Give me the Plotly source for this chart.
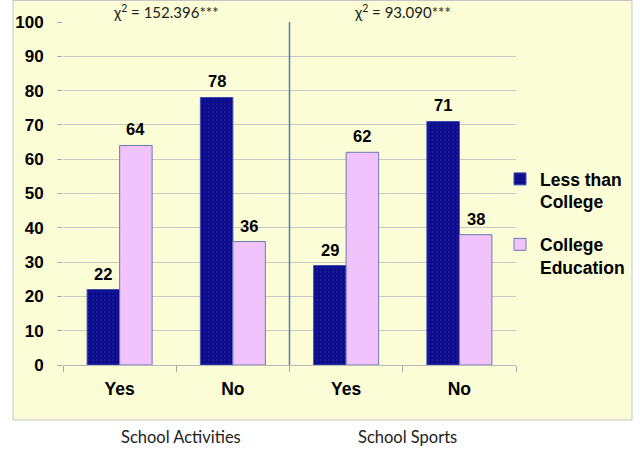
import plotly.graph_objects as go

categories = ["Activities: Yes", "Activities: No", "Sports: Yes", "Sports: No"]
tick_labels = ["Yes", "No", "Yes", "No"]
less_than_college = [22, 78, 29, 71]
college_education = [64, 36, 62, 38]
series_names = ["Less than<br>College", "College<br>Education"]
chi_labels = ["χ<sup>2</sup> = 152.396***", "χ<sup>2</sup> = 93.090***"]
group_labels = ["School Activities", "School Sports"]

W, H = 640, 449
L, R, T, B = 63, 124, 22, 84
pw = W - L - R
ph = H - T - B


def px_x(px):
    return (px - L) / pw


def px_y(py):
    return (H - B - py) / ph


BOLD = dict(family="Liberation Sans, Arial, sans-serif", weight="bold", color="black")
NAVY = "#0B0B8C"
PINK = "#F1C3FC"
EDGE = "#6A7AB4"

fig = go.Figure()
fig.add_trace(go.Bar(
    x=categories, y=less_than_college, name=series_names[0], legendgroup="a",
    marker=dict(color=NAVY, line=dict(color="#4050B0", width=1),
                pattern=dict(shape=".", fgcolor="#24249E", bgcolor=NAVY, size=4, solidity=0.3)),
))
fig.add_trace(go.Bar(
    x=categories, y=college_education, name=series_names[1], legendgroup="b",
    marker=dict(color=PINK, line=dict(color=EDGE, width=1)),
))

annotations = []
for series, shift in ((less_than_college, -16.3), (college_education, 16.3)):
    for cat, v in zip(categories, series):
        annotations.append(dict(
            x=cat, y=v, xref="x", yref="y", text=str(v), showarrow=False,
            yanchor="bottom", xshift=shift, yshift=5,
            font=dict(BOLD, size=16.5),
        ))

for txt, xp in zip(chi_labels, (166, 402)):
    annotations.append(dict(
        x=px_x(xp), y=px_y(11), xref="paper", yref="paper", text=txt, showarrow=False,
        xanchor="center", yanchor="middle",
        font=dict(family="Lato, Open Sans, sans-serif", size=15, color="#222222"),
    ))

for txt, xp in zip(group_labels, (181, 407)):
    annotations.append(dict(
        x=px_x(xp), y=px_y(437), xref="paper", yref="paper", text=txt, showarrow=False,
        xanchor="center", yanchor="middle",
        font=dict(family="Lato, Open Sans, sans-serif", size=16.5, color="#222222"),
    ))

shapes = [
    dict(type="rect", xref="paper", yref="paper", layer="below",
         x0=px_x(13), x1=px_x(632), y0=px_y(420), y1=px_y(0.5),
         fillcolor="#FBFDD6", line=dict(color="#C4C4C4", width=1)),
    dict(type="line", xref="x", yref="y", x0=len(categories) / 2 - 0.5,
         x1=len(categories) / 2 - 0.5, y0=0, y1=100,
         line=dict(color="#5B7DBE", width=1.5)),
]

fig.update_layout(
    width=W, height=H,
    margin=dict(l=L, r=R, t=T, b=B, autoexpand=False),
    paper_bgcolor="white", plot_bgcolor="white",
    barmode="group", bargap=0.426, bargroupgap=0,
    showlegend=True,
    legend=dict(x=px_x(500), y=px_y(161), xanchor="left", yanchor="top",
                valign="top", font=dict(BOLD, size=17.5),
                bgcolor="rgba(0,0,0,0)", tracegroupgap=17, traceorder="grouped"),
    annotations=annotations,
    shapes=shapes,
    xaxis=dict(type="category", tickvals=categories, ticktext=tick_labels,
               ticks="outside", tickson="boundaries", ticklen=6, tickcolor="#A8A8A8",
               showline=True, linecolor="#B8B8B8", linewidth=1, showgrid=False,
               tickfont=dict(BOLD, size=17.5), ticklabelstandoff=8),
    yaxis=dict(range=[0, 100], dtick=10, tick0=0, showgrid=True, gridcolor="#C8C8C8",
               gridwidth=1, ticks="outside", ticklen=5, tickcolor="#A8A8A8",
               zeroline=False, showline=False, tickfont=dict(BOLD, size=17),
               ticklabelstandoff=10),
)

fig.write_html("out.html", config={"displayModeBar": False},
               post_script="document.body.style.margin='0';")
